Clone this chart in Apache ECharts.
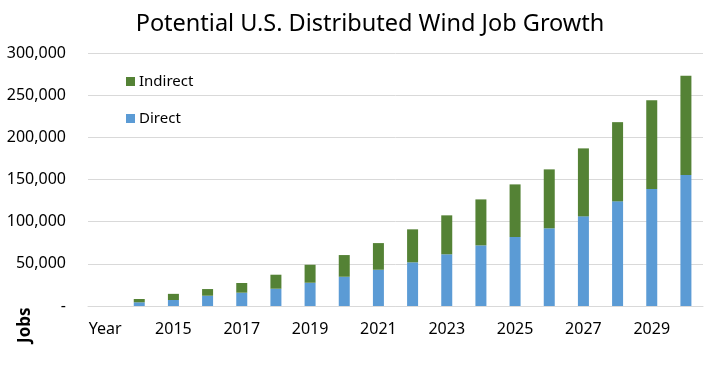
<!DOCTYPE html>
<html>
<head>
<meta charset="utf-8">
<script src="https://cdn.jsdelivr.net/npm/echarts@6/dist/echarts.min.js"></script>
<style>html,body{margin:0;padding:0;background:#fff;}#c{width:710px;height:382px;}</style>
</head>
<body>
<div id="c"></div>
<script>
const categories = ['Year','2014','2015','2016','2017','2018','2019','2020','2021','2022','2023','2024','2025','2026','2027','2028','2029','2030'];
const directJobs = [null, 4400, 7100, 12200, 15800, 20500, 27600, 34700, 43000, 51800, 61300, 71900, 81800, 92100, 106300, 124100, 138700, 155200];
const indirectJobs = [null, 3900, 7300, 7900, 11500, 16600, 21300, 25700, 31600, 39100, 46200, 54500, 62400, 69900, 80600, 93900, 105300, 117700];
const titleText = 'Potential U.S. Distributed Wind Job Growth';
const yAxisName = 'Jobs';

const FONT = 'Noto Sans';
const chart = echarts.init(document.getElementById('c'), null, {renderer:'canvas'});
chart.setOption({
  animation: false,
  backgroundColor: '#fff',
  title: {
    text: titleText, left: 365, top: 7, textAlign: 'center',
    textStyle: {fontFamily: FONT, fontSize: 23.5, fontWeight: 'normal', color: '#000'}
  },
  legend: {
    data: ['Indirect', 'Direct'],
    orient: 'vertical', left: 121, top: 69,
    itemWidth: 9, itemHeight: 9, itemGap: 22,
    icon: 'rect',
    textStyle: {fontFamily: FONT, fontSize: 15, color: '#000', padding: [0,0,0,-1]}
  },
  grid: {left: 88, right: 7, top: 53, bottom: 76, containLabel: false},
  xAxis: {
    type: 'category', data: categories,
    axisLine: {lineStyle: {color: '#d9d9d9'}},
    axisTick: {show: false},
    axisLabel: {interval: 1, fontFamily: FONT, fontSize: 16, color: '#000', margin: 15}
  },
  yAxis: {
    type: 'value', min: 0, max: 300000, interval: 50000,
    axisLine: {show: false}, axisTick: {show: false},
    splitLine: {lineStyle: {color: '#d9d9d9'}},
    axisLabel: {
      fontFamily: FONT, fontSize: 16, color: '#000', margin: 22,
      formatter: v => v === 0 ? '-' : v.toLocaleString('en-US')
    }
  },
  graphic: [{
    type: 'text', x: 34, y: 343, rotation: Math.PI/2,
    style: {text: yAxisName, fontFamily: FONT, fontSize: 17, fontWeight: 'bold', fill: '#000',
            align: 'left', verticalAlign: 'bottom'}
  }],
  series: [
    {name: 'Direct', type: 'bar', stack: 'jobs', data: directJobs, barWidth: 11, itemStyle: {color: '#5b9bd5'}},
    {name: 'Indirect', type: 'bar', stack: 'jobs', data: indirectJobs, barWidth: 11, itemStyle: {color: '#548235'}}
  ]
});
</script>
</body>
</html>
